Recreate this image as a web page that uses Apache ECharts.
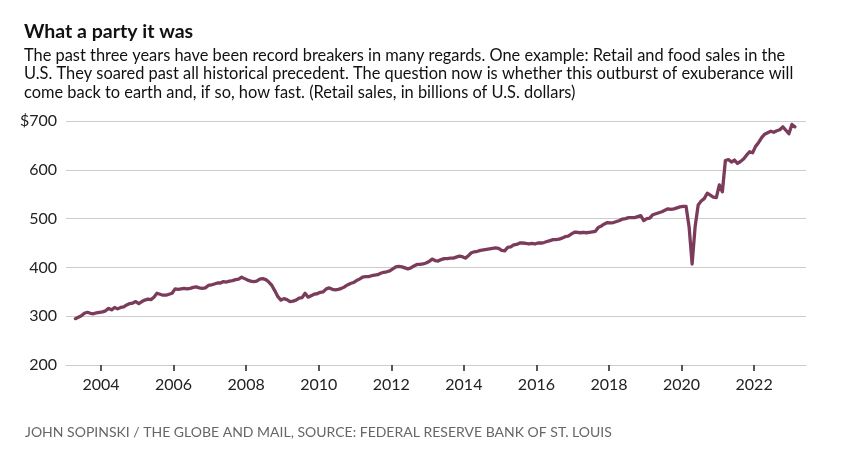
<!DOCTYPE html>
<html>
<head>
<meta charset="utf-8">
<script src="https://cdn.jsdelivr.net/npm/echarts@6/dist/echarts.min.js"></script>
<style>
html,body{margin:0;padding:0;background:#fff;}
#chart{width:857px;height:457px;}
</style>
</head>
<body>
<div id="chart"></div>
<script>
// Monthly retail and food sales, billions of U.S. dollars (Apr 2003 - Feb 2023)
const firstYear = 2003;
const firstMonth = 4; // April
const s2003 = [295, 298, 301, 306, 308, 306, 305, 307, 308];
const s2004 = [309, 311, 316, 313, 318, 315, 318, 319, 323, 326, 327, 330];
const s2005 = [326, 330, 333, 335, 334, 339, 347, 345, 343, 343, 345, 347];
const s2006 = [356, 355, 356, 357, 356, 357, 359, 360, 358, 357, 358, 363];
const s2007 = [364, 366, 368, 368, 371, 370, 372, 373, 375, 376, 380, 377];
const s2008 = [374, 372, 371, 372, 376, 377, 375, 370, 363, 352, 340, 333];
const s2009 = [336, 334, 330, 331, 333, 337, 338, 347, 339, 342, 345, 346];
const s2010 = [349, 350, 356, 358, 355, 354, 355, 357, 360, 364, 367, 369];
const s2011 = [373, 376, 380, 381, 381, 383, 384, 385, 388, 390, 391, 393];
const s2012 = [397, 401, 402, 401, 399, 397, 399, 403, 406, 406, 407, 409];
const s2013 = [412, 417, 414, 413, 416, 418, 418, 419, 419, 421, 423, 422];
const s2014 = [419, 424, 430, 432, 433, 435, 436, 437, 438, 439, 440, 439];
const s2015 = [435, 434, 441, 442, 446, 447, 450, 450, 449, 448, 449, 448];
const s2016 = [450, 450, 451, 453, 455, 457, 457, 458, 460, 463, 464, 468];
const s2017 = [472, 472, 471, 472, 471, 472, 473, 474, 482, 485, 489, 492];
const s2018 = [491, 492, 494, 496, 499, 500, 502, 502, 502, 504, 506, 496];
const s2019 = [500, 501, 508, 510, 512, 514, 517, 520, 519, 520, 522, 524];
const s2020 = [525, 525, 483, 407, 484, 528, 536, 541, 552, 548, 544, 543];
const s2021 = [569, 555, 619, 621, 616, 620, 613, 617, 622, 630, 637, 635];
const s2022 = [648, 656, 666, 673, 676, 679, 677, 680, 682, 688, 681, 674];
const s2023 = [693, 688];

const yearLabels = [2004, 2006, 2008, 2010, 2012, 2014, 2016, 2018, 2020, 2022];
const yTicks = [200, 300, 400, 500, 600, 700];

const allYears = [s2003, s2004, s2005, s2006, s2007, s2008, s2009, s2010, s2011,
  s2012, s2013, s2014, s2015, s2016, s2017, s2018, s2019, s2020, s2021, s2022, s2023];

const data = [];
allYears.forEach(function (arr, i) {
  const yr = firstYear + i;
  const m0 = (i === 0) ? firstMonth - 1 : 0;
  arr.forEach(function (v, j) {
    const m = m0 + j;
    data.push([yr + (m + 0.5) / 12, v]);
  });
});

const chart = echarts.init(document.getElementById('chart'), null, {renderer: 'canvas'});
const FONT = 'Lato';
chart.setOption({
  animation: false,
  backgroundColor: '#ffffff',
  title: [
    {
      text: 'What a party it was',
      left: 19, top: 17,
      textStyle: {fontFamily: FONT, fontSize: 19.5, fontWeight: 'bold', color: '#111'}
    },
    {
      text: 'The past three years have been record breakers in many regards. One example: Retail and food sales in the\nU.S. They soared past all historical precedent. The question now is whether this outburst of exuberance will\ncome back to earth and, if so, how fast. (Retail sales, in billions of U.S. dollars)',
      left: 19, top: 41,
      textStyle: {fontFamily: FONT, fontSize: 16.4, fontWeight: 'normal', color: '#111', lineHeight: 18.7}
    },
    {
      text: 'JOHN SOPINSKI / THE GLOBE AND MAIL, SOURCE: FEDERAL RESERVE BANK OF ST. LOUIS',
      left: 20, top: 420,
      textStyle: {fontFamily: FONT, fontSize: 14, fontWeight: 'normal', color: '#666'}
    }
  ],
  grid: {left: 66, right: 51, top: 121, bottom: 92, containLabel: false},
  xAxis: {
    type: 'value',
    min: 2003.035,
    max: 2023.43,
    axisLine: {show: true, lineStyle: {color: '#cccccc', width: 1}},
    axisTick: {show: true, customValues: yearLabels, length: 6, lineStyle: {color: '#222', width: 1.5}},
    axisLabel: {
      customValues: yearLabels,
      formatter: function (v) { return String(Math.round(v)); },
      fontFamily: FONT, fontSize: 16, color: '#222', margin: 12
    },
    splitLine: {show: false}
  },
  yAxis: {
    type: 'value',
    min: 200, max: 700, interval: 100,
    axisLine: {show: false},
    axisTick: {show: false},
    axisLabel: {
      formatter: function (v) { return v === 700 ? '$700' : String(v); },
      fontFamily: FONT, fontSize: 16, color: '#222', margin: 9
    },
    splitLine: {show: true, lineStyle: {color: '#cccccc', width: 1}}
  },
  series: [{
    type: 'line',
    data: data,
    showSymbol: false,
    lineStyle: {color: '#7b3b5b', width: 3.3, join: 'round', cap: 'round'},
    itemStyle: {color: '#7b3b5b'}
  }]
});
</script>
</body>
</html>
